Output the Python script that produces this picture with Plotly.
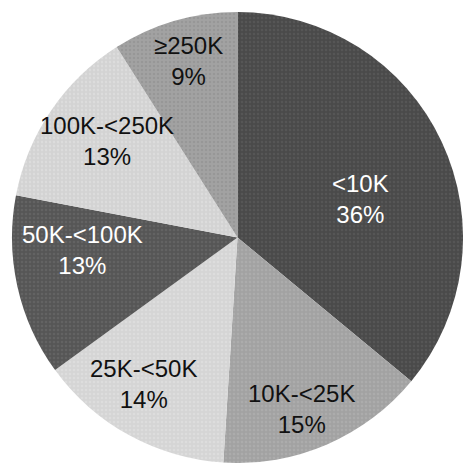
import math
import plotly.graph_objects as go

# Income bands and their share of the total (percent)
labels = ["<10K", "10K-<25K", "25K-<50K", "50K-<100K", "100K-<250K", "≥250K"]
shares = [36, 15, 14, 13, 13, 9]

slice_colors = ["#4a4a4a", "#a2a2a2", "#d5d5d5", "#565656", "#d3d3d3", "#a2a2a2"]
dot_colors = ["#5c5c5c", "#afafaf", "#e2e2e2", "#686868", "#e0e0e0", "#929292"]
text_colors = ["#ffffff", "#111111", "#111111", "#ffffff", "#111111", "#111111"]

# Label placement: radial fraction of the pie radius and a small angular nudge
# (degrees, clockwise) from each slice's bisector
label_radius = [0.57, 0.81, 0.77, 0.69, 0.72, 0.81]
label_nudge = [7.7, 3.0, 3.8, 8.1, 2.3, 0.8]

W = H = 463
pie_left, pie_top = 12, 12
pie_size = 451  # square domain in px
radius = pie_size / 2
cx = pie_left + radius
cy = pie_top + radius

fig = go.Figure(
    go.Pie(
        labels=labels,
        values=shares,
        sort=False,
        direction="clockwise",
        rotation=0,
        marker=dict(
            colors=slice_colors,
            line=dict(width=0),
            pattern=dict(shape=".", size=4, solidity=0.3,
                         bgcolor=slice_colors, fgcolor=dot_colors, fgopacity=0.7),
        ),
        textinfo="none",
        hoverinfo="label+percent",
        domain=dict(x=[pie_left / W, (pie_left + pie_size) / W],
                    y=[1 - (pie_top + pie_size) / H, 1 - pie_top / H]),
        showlegend=False,
    )
)

total = sum(shares)
cum = 0
annotations = []
for lab, val, tc, rf, nd in zip(labels, shares, text_colors, label_radius, label_nudge):
    mid = (cum + val / 2) / total * 360 + nd
    cum += val
    a = math.radians(mid)
    px = cx + rf * radius * math.sin(a)
    py = cy - rf * radius * math.cos(a)
    annotations.append(dict(
        x=px / W, y=1 - py / H, xref="paper", yref="paper",
        xanchor="center", yanchor="middle", showarrow=False,
        text=f"{lab}<br>{round(val / total * 100)}%",
        font=dict(family="Arial, Liberation Sans, sans-serif", size=24, color=tc),
        align="center",
    ))

fig.update_layout(
    width=W,
    height=H,
    margin=dict(l=0, r=0, t=0, b=0),
    paper_bgcolor="#ffffff",
    plot_bgcolor="#ffffff",
    annotations=annotations,
)

fig.write_html("out.html")
